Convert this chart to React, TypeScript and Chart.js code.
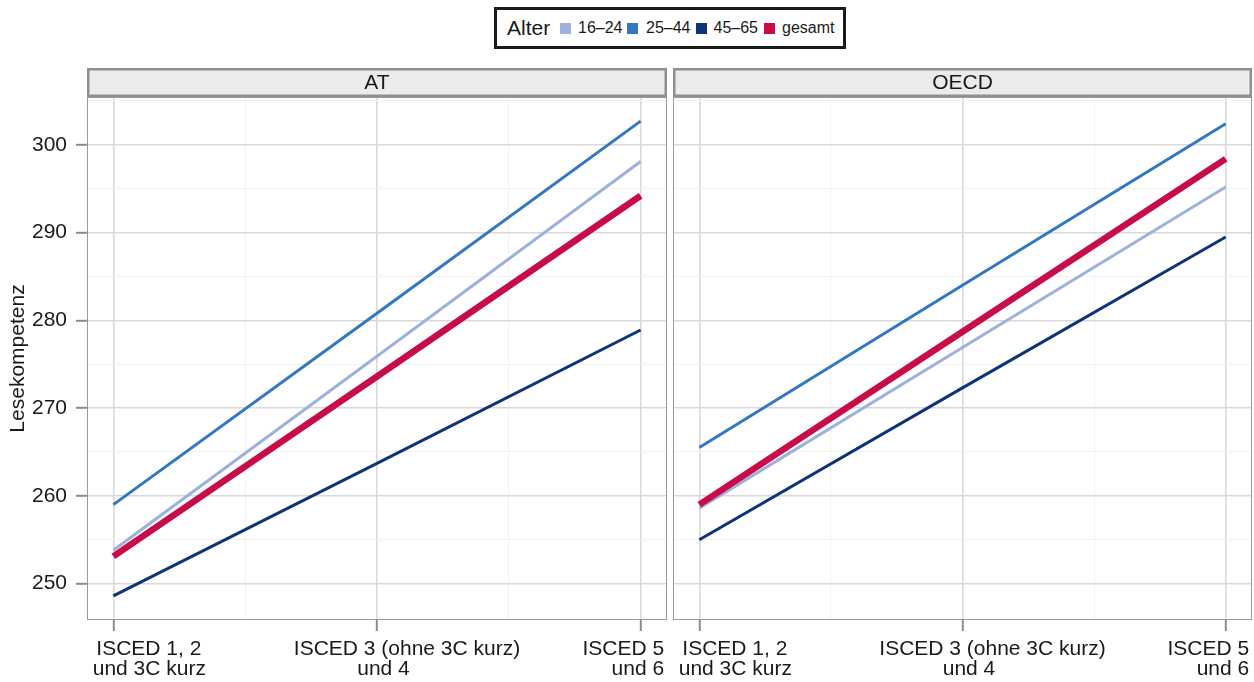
import React, { useEffect, useRef } from "react";
import { Chart, registerables } from "chart.js";

Chart.register(...registerables);

// ---------- data ----------
const panels = ["AT", "OECD"];
const xCategoryLines = [
  ["ISCED 1, 2", "und 3C kurz"],
  ["ISCED 3 (ohne 3C kurz)", "und 4"],
  ["ISCED 5", "und 6"],
];
const xPositions = [1, 2, 3];
const xMinorPositions = [1.5, 2.5];
const seriesNames = ["16–24", "25–44", "45–65", "gesamt"];

const at16_24 = [253.8, 275.9, 298.1];
const at25_44 = [259.0, 280.8, 302.7];
const at45_65 = [248.6, 263.7, 278.9];
const atGesamt = [253.1, 273.6, 294.2];

const oecd16_24 = [258.6, 276.9, 295.2];
const oecd25_44 = [265.5, 284.0, 302.4];
const oecd45_65 = [255.0, 272.3, 289.5];
const oecdGesamt = [259.0, 278.7, 298.4];

const yMajorTicks = [250, 260, 270, 280, 290, 300];
const yMinorTicks = [255, 265, 275, 285, 295, 305];
const yTitle = "Lesekompetenz";
const legendTitle = "Alter";

// ---------- style ----------
const panelSeries = [
  [at16_24, at25_44, at45_65, atGesamt],
  [oecd16_24, oecd25_44, oecd45_65, oecdGesamt],
];
const seriesColors = ["#9db1dc", "#3278bf", "#0d3479", "#c80c48"];
const seriesWidths = [3, 3, 3, 6.5];
const seriesOrder = [3, 2, 1, 0];
const FONT = "'Liberation Sans', Arial, Helvetica, sans-serif";
const TEXT = "#1a1a1a";
const GRID_MAJOR = "#d9d9d9";
const GRID_MINOR = "#f2f2f2";
const TICK = "#8c8c8c";
const Y_MIN = 245.85;
const Y_MAX = 305.45;
// per tick: horizontal offsets of each label line and alignment
const xLabelLayout = [
  { dx: [35.5, 36], align: "center" },
  { dx: [30, 6.5], align: "center" },
  { dx: [23.5, 23.5], align: "right" },
];

function isMajorY(v: number) {
  return yMajorTicks.includes(v);
}
function isMajorX(v: number) {
  return xPositions.includes(v);
}

function decorPlugin(name: string) {
  return {
    id: "panelDecor",
    afterDatasetsDraw(chart: any) {
      const { ctx, chartArea } = chart;
      ctx.save();
      ctx.strokeStyle = "#9a9a9a";
      ctx.lineWidth = 1;
      ctx.strokeRect(
        chartArea.left + 0.5,
        chartArea.top + 0.5,
        chartArea.right - chartArea.left - 1,
        chartArea.bottom - chartArea.top - 1
      );
      ctx.restore();
    },
    afterDraw(chart: any) {
      const { ctx, chartArea } = chart;
      ctx.save();
      // strip
      const sTop = 68;
      const lw = 2.5;
      ctx.fillStyle = "#ebebeb";
      ctx.fillRect(chartArea.left, sTop, chartArea.right - chartArea.left, chartArea.top - sTop);
      ctx.strokeStyle = "#8f8f8f";
      ctx.lineWidth = lw;
      ctx.strokeRect(
        chartArea.left + lw / 2,
        sTop + lw / 2,
        chartArea.right - chartArea.left - lw,
        chartArea.top - sTop - lw
      );
      ctx.fillStyle = TEXT;
      ctx.font = `21px ${FONT}`;
      ctx.textAlign = "center";
      ctx.textBaseline = "middle";
      ctx.fillText(name, (chartArea.left + chartArea.right) / 2, (sTop + chartArea.top) / 2 + 1);

      // x tick labels
      const xs = chart.scales.x;
      ctx.textBaseline = "alphabetic";
      xPositions.forEach((v, i) => {
        const px = xs.getPixelForValue(v);
        const lay = xLabelLayout[i];
        ctx.textAlign = lay.align;
        xCategoryLines[i].forEach((line, j) => {
          ctx.fillText(line, px + lay.dx[j], chartArea.bottom + 35 + j * 20);
        });
      });
      ctx.restore();
    },
  };
}

function buildConfig(panelIdx: number, showY: boolean): any {
  const series = panelSeries[panelIdx];
  const datasets = seriesNames.map((name, i) => ({
    label: name,
    data: xPositions.map((x, j) => ({ x, y: series[i][j] })),
    borderColor: seriesColors[i],
    backgroundColor: seriesColors[i],
    borderWidth: seriesWidths[i],
    pointRadius: 0,
    pointHoverRadius: 0,
    fill: false,
    tension: 0,
    order: seriesOrder[i],
  }));
  return {
    type: "line",
    data: { datasets },
    plugins: [decorPlugin(panels[panelIdx])],
    options: {
      animation: false,
      responsive: false,
      maintainAspectRatio: false,
      events: [],
      layout: { padding: { top: 97, right: showY ? 3 : 2, bottom: 0, left: 0 } },
      plugins: { legend: { display: false }, tooltip: { enabled: false } },
      scales: {
        x: {
          type: "linear",
          min: 0.9,
          max: 3.1,
          afterBuildTicks: (s: any) => {
            s.ticks = [...xPositions, ...xMinorPositions]
              .sort((a, b) => a - b)
              .map((v) => ({ value: v }));
          },
          afterFit: (s: any) => {
            s.height = 62;
          },
          ticks: { display: false },
          border: { display: false },
          grid: {
            color: (c: any) => (c.tick && isMajorX(c.tick.value) ? GRID_MAJOR : GRID_MINOR),
            lineWidth: (c: any) => (c.tick && isMajorX(c.tick.value) ? 1.6 : 1),
            tickColor: (c: any) => (c.tick && isMajorX(c.tick.value) ? TICK : "rgba(0,0,0,0)"),
            tickLength: 11,
            tickWidth: 2,
            drawTicks: true,
          },
        },
        y: {
          type: "linear",
          min: Y_MIN,
          max: Y_MAX,
          afterBuildTicks: (s: any) => {
            s.ticks = [...yMajorTicks, ...yMinorTicks]
              .filter((v) => v >= Y_MIN && v <= Y_MAX)
              .sort((a, b) => a - b)
              .map((v) => ({ value: v }));
          },
          afterFit: (s: any) => {
            s.width = showY ? 87 : 3;
          },
          ticks: {
            display: showY,
            padding: 9,
            color: TEXT,
            font: { family: FONT, size: 21 },
            callback: (v: any) => (isMajorY(Number(v)) ? String(v) : ""),
          },
          title: {
            display: showY,
            text: yTitle,
            color: TEXT,
            font: { family: FONT, size: 21 },
            padding: { top: 6, bottom: 0 },
          },
          border: { display: false },
          grid: {
            color: (c: any) => (c.tick && isMajorY(c.tick.value) ? GRID_MAJOR : GRID_MINOR),
            lineWidth: (c: any) => (c.tick && isMajorY(c.tick.value) ? 1.6 : 1),
            tickColor: (c: any) => (c.tick && isMajorY(c.tick.value) ? TICK : "rgba(0,0,0,0)"),
            tickLength: 11,
            tickWidth: 2,
            drawTicks: showY,
          },
        },
      },
    },
  };
}

function Panel({ idx, left, width, showY }: { idx: number; left: number; width: number; showY: boolean }) {
  const ref = useRef<HTMLCanvasElement | null>(null);
  useEffect(() => {
    if (!ref.current) return;
    const chart = new Chart(ref.current, buildConfig(idx, showY));
    return () => chart.destroy();
  }, [idx, left, width, showY]);
  return (
    <canvas
      ref={ref}
      width={width}
      height={682}
      style={{ position: "absolute", left, top: 0, width, height: 682, display: "block" }}
    />
  );
}

const legendSquareLefts = [560, 627, 696, 764];
const legendTextLefts = [578, 646, 713.5, 782];

export default function App() {
  return (
    <div
      style={{
        position: "absolute",
        left: 0,
        top: 0,
        width: 1254,
        height: 682,
        background: "#ffffff",
        overflow: "hidden",
        fontFamily: FONT,
        color: TEXT,
      }}
    >
      <Panel idx={0} left={0} width={670} showY={true} />
      <Panel idx={1} left={670} width={584} showY={false} />
      <div
        style={{
          position: "absolute",
          left: 494,
          top: 7,
          width: 352,
          height: 42,
          boxSizing: "border-box",
          border: "3px solid #1a1a1a",
          background: "#fff",
        }}
      />
      <div
        style={{
          position: "absolute",
          left: 507,
          top: 15,
          fontSize: 21,
          lineHeight: "26px",
          whiteSpace: "nowrap",
        }}
      >
        {legendTitle}
      </div>
      {seriesNames.map((n, i) => (
        <React.Fragment key={n}>
          <div
            style={{
              position: "absolute",
              left: legendSquareLefts[i],
              top: 23,
              width: 11,
              height: 11,
              background: seriesColors[i],
            }}
          />
          <div
            style={{
              position: "absolute",
              left: legendTextLefts[i],
              top: 18,
              fontSize: 16,
              lineHeight: "20px",
              whiteSpace: "nowrap",
            }}
          >
            {n}
          </div>
        </React.Fragment>
      ))}
    </div>
  );
}
